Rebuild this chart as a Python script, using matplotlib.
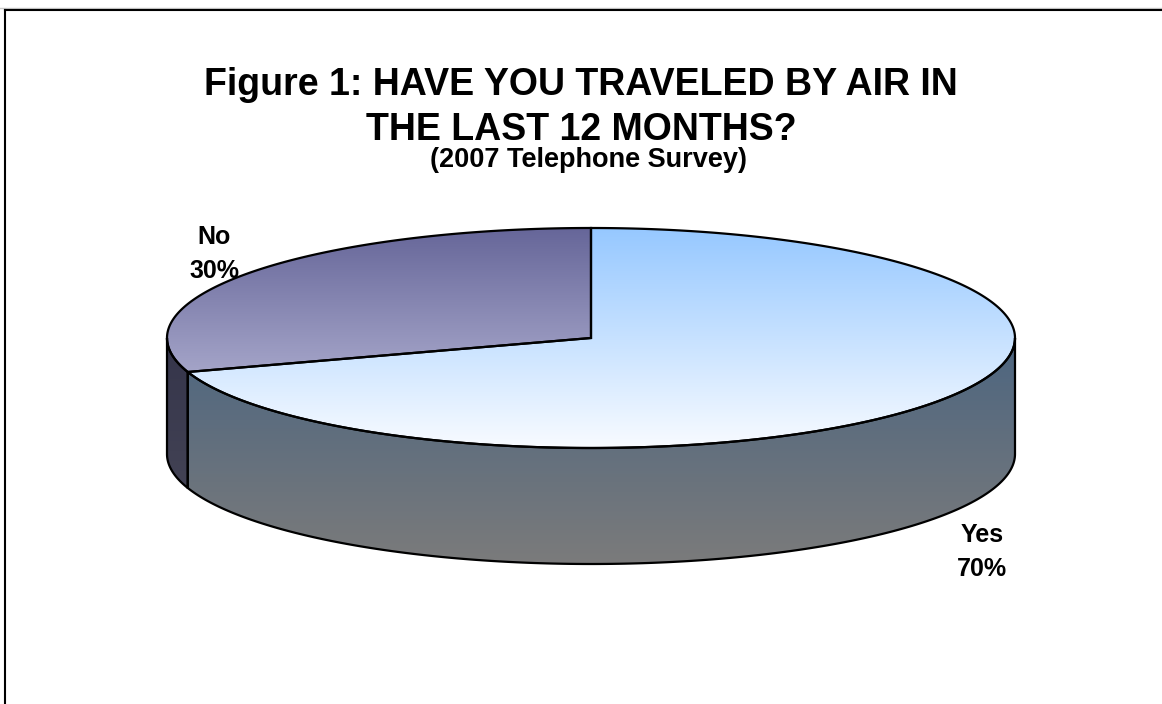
import numpy as np
import matplotlib.pyplot as plt
from matplotlib.patches import Polygon
from matplotlib.colors import LinearSegmentedColormap

labels = ['Yes', 'No']
values = [70, 30]
title_lines = ['Figure 1: HAVE YOU TRAVELED BY AIR IN', 'THE LAST 12 MONTHS?']
subtitle = '(2007 Telephone Survey)'

plt.rcParams['font.family'] = ['Liberation Sans', 'DejaVu Sans']

W, H = 1162, 704
fig = plt.figure(figsize=(W / 100, H / 100), dpi=100)
ax = fig.add_axes([0, 0, 1, 1])
ax.set_xlim(0, W)
ax.set_ylim(H, 0)
ax.axis('off')

# pie geometry in pixels
cx, cy = 591, 338
rx, ry = 424, 110
depth = 116


def pt(t, dy=0):
    return cx + rx * np.cos(t), cy - ry * np.sin(t) + dy


def gradient_fill(poly_xy, c_top, c_bot, y0, y1):
    poly = Polygon(poly_xy, closed=True, facecolor='none', edgecolor='black', lw=1.6, zorder=3)
    ax.add_patch(poly)
    cmap = LinearSegmentedColormap.from_list('g', [c_top, c_bot])
    grad = np.linspace(0, 1, 256).reshape(-1, 1)
    xs = [p[0] for p in poly_xy]
    im = ax.imshow(grad, cmap=cmap, aspect='auto', interpolation='bicubic',
                   extent=[min(xs), max(xs), y1, y0], zorder=2)
    im.set_clip_path(poly)


# slice angles: No starts at 12 o'clock going counter-clockwise, Yes follows
total = sum(values)
no_start = np.pi / 2
no_end = no_start + 2 * np.pi * values[1] / total
yes_start = no_end
yes_end = no_start + 2 * np.pi

# side walls (visible lower half: pi .. 2pi)
def side(a0, a1):
    t = np.linspace(a0, a1, 200)
    top = [pt(a) for a in t]
    bot = [pt(a, depth) for a in t[::-1]]
    return top + bot

gradient_fill(side(np.pi, no_end), '#34344a', '#4a4a5a', cy, cy + ry + depth)
gradient_fill(side(no_end, 2 * np.pi), '#4c6580', '#7b7b7b', cy, cy + ry + depth)

# top faces
def wedge(a0, a1):
    t = np.linspace(a0, a1, 400)
    return [(cx, cy)] + [pt(a) for a in t]

gradient_fill(wedge(yes_start, yes_end), '#96c8ff', '#f8fbff', cy - ry, cy + ry)
gradient_fill(wedge(no_start, no_end), '#666699', '#a4a4c8', cy - ry, pt(no_end)[1])

# labels
lab_style = dict(fontsize=18, fontweight='bold', ha='center', va='center', linespacing=1.55)
ax.text(214, 254, f'{labels[1]}\n{values[1]}%', **lab_style)
ax.text(982, 552, f'{labels[0]}\n{values[0]}%', **lab_style)

# titles
ax.text(581, 85, title_lines[0], fontsize=27, fontweight='bold', ha='center', va='center')
ax.text(581, 130, title_lines[1], fontsize=27, fontweight='bold', ha='center', va='center')
ax.text(588, 160, subtitle, fontsize=19.5, fontweight='bold', ha='center', va='center')

# frame
ax.plot([0, W], [8, 8], color='#c8c8c8', lw=1)
ax.plot([4.5, W], [9.5, 9.5], color='black', lw=1.5)
ax.plot([4.5, 4.5], [9.5, H], color='black', lw=1.5)

fig.savefig('out.png', dpi=100)
